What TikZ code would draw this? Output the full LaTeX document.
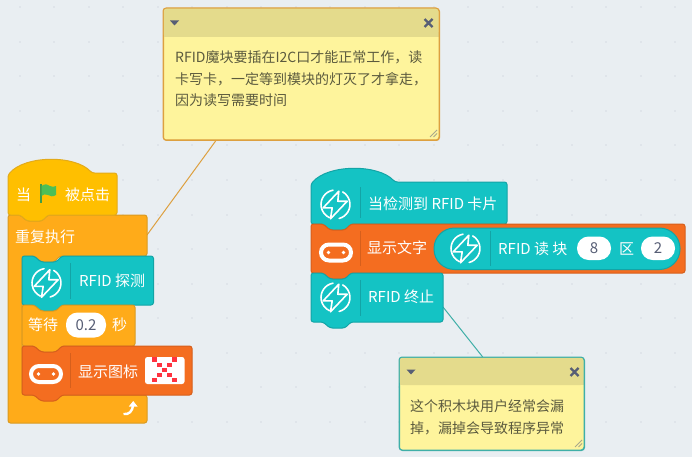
\documentclass[tikz,border=0pt]{standalone}
\usepackage{fontspec}
\usetikzlibrary{calc}
\setmainfont{Noto Sans CJK SC}
\definecolor{bg}{HTML}{E9EEF2}
\definecolor{griddot}{HTML}{DFE4EA}
\definecolor{hatfill}{HTML}{FFBF00}
\definecolor{hatline}{HTML}{E3AA1A}
\definecolor{ctlfill}{HTML}{FFAB19}
\definecolor{ctlline}{HTML}{D99A22}
\definecolor{tealfill}{HTML}{14C3C4}
\definecolor{tealline}{HTML}{13A4A6}
\definecolor{orgfill}{HTML}{F46D20}
\definecolor{orgline}{HTML}{D65F1C}
\definecolor{notebody}{HTML}{FEF49C}
\definecolor{notehead}{HTML}{E4DB8C}
\definecolor{notetext}{HTML}{5B5A3E}
\definecolor{iconblue}{HTML}{575E75}
\definecolor{noteamber}{HTML}{DDA040}
\definecolor{noteteal}{HTML}{3FAFA8}
\definecolor{flagpole}{HTML}{3F9E48}
\definecolor{flagfill}{HTML}{4CBF56}
\definecolor{gripgray}{HTML}{A8A88C}
\definecolor{ledred}{HTML}{FF3340}
\tikzset{
  blockbase/.style={line width=1pt, rounded corners=2.5pt, line join=round},
  hatblock/.style={blockbase, fill=hatfill, draw=hatline},
  ctlblock/.style={blockbase, fill=ctlfill, draw=ctlline},
  tealblock/.style={blockbase, fill=tealfill, draw=tealline},
  orgblock/.style={blockbase, fill=orgfill, draw=orgline},
  blocktext/.style={anchor=west, inner sep=0pt, text=white, font=\fontsize{15}{18}\selectfont},
  valtext/.style={anchor=center, inner sep=0pt, text=iconblue, font=\fontsize{15}{18}\selectfont},
  oval/.style={rounded corners=11.5pt, fill=white, draw=none},
  divider/.style={line width=1pt},
  notebox/.style={anchor=north west, inner sep=0pt, rounded corners=3pt, fill=notebody, line width=1pt},
  notetxt/.style={anchor=north west, inner sep=0pt, align=left, text=notetext, font=\fontsize{14}{21.5}\selectfont},
  connector/.style={line width=1pt},
  iconline/.style={draw=white, line width=1.6pt, line join=round},
}
% stack block: x1, ytop, x2, ybottom
\newcommand{\stackpath}[4]{(#1,#2) -- ({#1+12},#2) -- ({#1+19},{#2+6}) -- ({#1+34},{#2+6}) -- ({#1+40},#2) -- (#3,#2) -- (#3,#4) -- ({#1+40},#4) -- ({#1+34},{#4+6}) -- ({#1+19},{#4+6}) -- ({#1+12},#4) -- (#1,#4) -- cycle}
% hat block: x1, arc end x, shoulder y, x2, ybottom
\newcommand{\hatpath}[5]{(#1,{#3+2}) .. controls ({#1+17},{#3-18}) and ({#2-17},{#3-18}) .. (#2,#3) -- (#4,#3) -- (#4,#5) -- ({#1+40},#5) -- ({#1+34},{#5+6}) -- ({#1+19},{#5+6}) -- ({#1+12},#5) -- (#1,#5) -- cycle}
\newcommand{\bolticon}[2]{%
  \begin{scope}[shift={(#1,#2)}]
    \draw[iconline] (3.3,-13.3) -- (-12.3,3.3) -- (-3.3,3.3) -- (-5,14.3) -- (11.7,-3.3) -- (2.3,-3.3) -- cycle;
    \draw[iconline, line cap=round] (-2.5,-14.3) arc[start angle=-100, end angle=-245, radius=14.5];
    \draw[iconline, line cap=round] (7.2,-12.6) arc[start angle=-60, end angle=75, radius=14.5];
  \end{scope}}
\newcommand{\boardicon}[2]{%
  \begin{scope}[shift={(#1,#2)}]
    \draw[draw=white, line width=4pt, rounded corners=8pt] (-15,-8) rectangle (15,8);
    \fill[white] (-7.5,0) circle (1.8) (7.5,0) circle (1.8);
  \end{scope}}
\newcommand{\noteicons}[3]{% header left x, center y, x of close
  \fill[iconblue] (#1,{#2-2.5}) -- ({#1+9},{#2-2.5}) -- ({#1+4.5},{#2+2.5}) -- cycle;
  \draw[iconblue, line width=2.4pt] ({#3-4},{#2-4}) -- ({#3+4},{#2+4}) ({#3-4},{#2+4}) -- ({#3+4},{#2-4});
}
\begin{document}
\begin{tikzpicture}[x=1pt,y=-1pt]
\useasboundingbox (0,0) rectangle (692,457);
\fill[bg] (0,0) rectangle (692,457);
% dotted workspace grid
\foreach \i in {0,...,19}{\foreach \j in {0,...,12}{
  \fill[griddot] ({19.5+34.5*\i-1},{7.5+34.5*\j-1}) rectangle ++(2,2);
}}

% named ends of connectors
\coordinate (foreverEdge) at (147,235);
\coordinate (stopEdge) at (443,307);

% notes
\node[notebox, draw=noteamber, minimum width=276pt, minimum height=132pt] (noteA) at (163,8) {};
\node[notebox, draw=noteteal, minimum width=185pt, minimum height=93pt] (noteB) at (399,357) {};
\coordinate (noteAfoot) at ($(noteA.south west)!0.19!(noteA.south east)$);
\coordinate (noteBtop) at ($(noteB.north west)!0.45!(noteB.north east)$);
\draw[connector, draw=noteamber] (noteAfoot) -- (foreverEdge);
\draw[connector, draw=noteteal] (noteBtop) -- (stopEdge);

\fill[notehead, rounded corners=3pt] (163.5,37) -- (163.5,8.5) -- (438.5,8.5) -- (438.5,37) -- cycle;
\fill[notehead] (163.5,32) rectangle (438.5,37);
\fill[notehead, rounded corners=3pt] (399.5,385) -- (399.5,357.5) -- (583.5,357.5) -- (583.5,385) -- cycle;
\fill[notehead] (399.5,380) rectangle (583.5,385);
\draw[noteamber, line width=1pt, rounded corners=3pt] (163,8) rectangle (439,140);
\draw[noteteal, line width=1pt, rounded corners=3pt] (399,357) rectangle (584,450);
\noteicons{170}{23}{428.5}
\noteicons{406.5}{372}{574.5}
\draw[gripgray, line width=.8pt] (430,137) -- (437,130) (433.5,137) -- (437,133.5);
\draw[gripgray, line width=.8pt] (575,447) -- (582,440) (578.5,447) -- (582,443.5);
\node[notetxt] (noteAtext) at (175,50.5) {RFID魔块要插在I2C口才能正常工作，读\\卡写卡，一定等到模块的灯灭了才拿走，\\因为读写需要时间};
\node[notetxt] (noteBtext) at (410,399.5) {这个积木块用户经常会漏\\掉，漏掉会导致程序异常};

% left stack
\draw[ctlblock] (8,215) -- (20,215) -- (27,221) -- (42,221) -- (48,215) -- (147,215) -- (147,256) -- (60,256) -- (54,262) -- (41,262) -- (35,256) -- (22,256) -- (22,395) -- (147,395) -- (147,423) -- (8,423) -- cycle;
\draw[hatblock] \hatpath{8}{92}{173}{117}{215};
\draw[tealblock] \stackpath{22}{256}{153.5}{305};
\draw[ctlblock] \stackpath{22}{305}{135}{346};
\draw[orgblock] \stackpath{22}{346}{192}{395};

\node[blocktext] (whenA) at (16,195) {当};
\fill[flagpole] (39.5,184) rectangle (41.5,203);
\fill[flagfill] (41.5,186) .. controls (45,183.5) and (48,184) .. (50,186) .. controls (52,187) and (54,187) .. (56,186) -- (56,195) .. controls (53,197) and (50,196.5) .. (48,195) .. controls (46,194) and (43,194) .. (41.5,196) -- cycle;
\node[blocktext] (whenB) at (65,195) {被点击};
\node[blocktext] (forever) at (15,237) {重复执行};

\draw[tealline, divider] (70.5,263) -- (70.5,299);
\bolticon{46.5}{283}
\node[blocktext] (probe) at (79,281) {RFID 探测};

\node[blocktext] (waitA) at (28,325) {等待};
\fill[oval] (66,312.5) rectangle (106,337.5);
\node[valtext] (waitVal) at (86,325) {0.2};
\node[blocktext] (waitB) at (112,325) {秒};

\draw[orgline, divider] (70.5,353) -- (70.5,388);
\boardicon{46}{374}
\node[blocktext] (showIcon) at (78,372) {显示图标};
\fill[white, rounded corners=2.5pt] (145,357) rectangle (184.5,384);
\foreach \cx/\cy in {154.3/359.5,174.3/359.5,159.3/364.7,169.3/364.7,164.3/369.7,159.3/374.7,169.3/374.7,154.3/379.8,174.3/379.8}{
  \fill[ledred] ({\cx-2.2},{\cy-2.2}) rectangle ({\cx+2.2},{\cy+2.2});
}
% loop arrow
\draw[white, line width=2.4pt] (123.5,414) .. controls (129,415) and (132.5,411) .. (133,405.5);
\fill[white] (128.8,406.5) -- (133.2,401) -- (137.6,406.5) -- cycle;

% right stack
\draw[tealblock] \hatpath{311}{395}{182}{507}{224};
\draw[orgblock] \stackpath{311}{224}{685}{273};
\draw[tealblock] \stackpath{311}{273}{443}{322};

\draw[tealline, divider] (360,187) -- (360,218);
\bolticon{335.5}{204.5}
\node[blocktext] (whenRfid) at (368,204) {当检测到 RFID 卡片};

\draw[orgline, divider] (360,231) -- (360,266);
\boardicon{336}{252.5}
\node[blocktext] (showText) at (367,248) {显示文字};
\draw[line width=1pt, fill=tealfill, draw=tealline, rounded corners=20.5pt] (434,228) rectangle (680,269.5);
\draw[tealline, divider] (490,231) -- (490,266);
\bolticon{465.5}{248.5}
\node[blocktext] (readA) at (498,248.5) {RFID 读 块};
\fill[oval] (577,236.5) rectangle (611,260);
\node[valtext] (valEight) at (594,248.5) {8};
\node[blocktext] (readB) at (619,248.5) {区};
\fill[oval] (641,236.5) rectangle (675,260);
\node[valtext] (valTwo) at (658,248.5) {2};

\draw[tealline, divider] (360,280) -- (360,316);
\bolticon{335.5}{297.5}
\node[blocktext] (stop) at (368,297) {RFID 终止};
\end{tikzpicture}
\end{document}
